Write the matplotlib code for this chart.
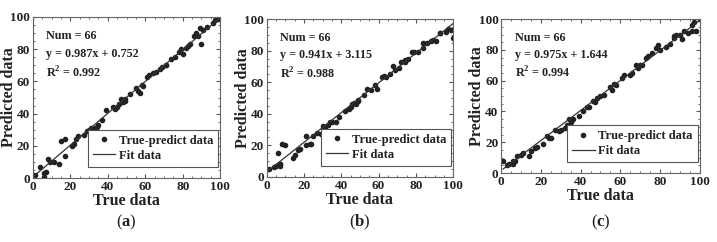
import numpy as np
import matplotlib.pyplot as plt
from matplotlib.ticker import AutoMinorLocator

# --- dados ---
xa = [1, 4, 6, 6, 7, 8, 9, 11, 14, 15, 17, 17, 21, 22, 23, 24, 29, 30, 31, 33, 34, 35,
      37, 39, 43, 44, 45, 47, 48, 49, 49, 55, 56, 57, 58, 59, 61, 62, 64, 68, 69, 71,
      71, 74, 76, 78, 79, 80, 83, 84, 86, 87, 88, 89, 90, 91, 93, 96, 97, 99, 100,
      46, 66, 52, 27, 82]
ya = [2, 7, 3, 1, 4, 12, 10, 10, 9, 23, 14, 24, 20, 21, 24, 26, 29, 30, 31, 31, 32, 33,
      36, 42, 44, 43, 44, 49, 47, 48, 49, 56, 54, 53, 58, 57, 63, 64, 65, 68, 69, 70,
      70, 74, 75, 78, 80, 77, 82, 83, 88, 90, 88, 93, 83, 92, 94, 96, 98, 99, 99,
      46, 66, 52, 27, 81]

xb = [1, 4, 5, 7, 6, 7, 7, 8, 10, 14, 15, 17, 18, 21, 21, 23, 24, 25, 29, 30, 31, 33,
      34, 35, 37, 39, 44, 45, 46, 47, 49, 49, 54, 56, 58, 59, 62, 63, 66, 68, 69, 71,
      72, 74, 74, 76, 78, 79, 81, 84, 84, 86, 88, 91, 93, 93, 96, 97, 99, 100,
      42, 52, 64, 89, 27, 48]
yb = [5, 6, 7, 7, 15, 8, 8, 21, 20, 12, 14, 17, 18, 26, 20, 21, 21, 26, 27, 32, 31, 33,
      35, 35, 35, 38, 43, 44, 46, 47, 48, 49, 56, 55, 58, 56, 63, 64, 65, 70, 68, 69,
      73, 73, 74, 75, 79, 79, 79, 82, 85, 85, 86, 86, 91, 91, 92, 94, 93, 88,
      42, 52, 63, 87, 28, 46]

xc = [1, 3, 4, 6, 6, 7, 8, 10, 11, 14, 15, 17, 18, 21, 23, 24, 25, 29, 30, 32, 33, 34,
      35, 36, 39, 43, 44, 46, 47, 48, 55, 56, 57, 58, 61, 62, 65, 68, 69, 70, 71, 73,
      74, 76, 78, 79, 80, 83, 85, 87, 87, 88, 90, 91, 92, 96, 96, 97, 98, 100,
      50, 52, 41, 27, 66, 94]
yc = [8, 5, 6, 8, 6, 8, 11, 12, 13, 11, 14, 16, 17, 19, 24, 23, 23, 27, 28, 29, 31, 35,
      33, 35, 37, 43, 43, 47, 46, 49, 56, 54, 58, 57, 62, 64, 64, 70, 68, 70, 70, 75,
      76, 78, 81, 83, 80, 82, 84, 88, 89, 90, 90, 87, 92, 92, 96, 98, 92, 100,
      50, 51, 40, 28, 65, 91]

paineis = [
    (xa, ya, 0.987, 0.752, 0.992, 'a'),
    (xb, yb, 0.941, 3.115, 0.988, 'b'),
    (xc, yc, 0.975, 1.644, 0.994, 'c'),
]
posicoes = [
    [0.046, 0.264, 0.261, 0.666],
    [0.372, 0.269, 0.260, 0.652],
    [0.699, 0.285, 0.277, 0.636],
]

cor_texto = '#222222'
plt.rcParams['font.family'] = ['Liberation Serif', 'DejaVu Serif']
plt.rcParams['font.weight'] = 'bold'
plt.rcParams['mathtext.fontset'] = 'custom'
plt.rcParams['mathtext.bf'] = 'Liberation Serif:bold'
plt.rcParams['mathtext.rm'] = 'Liberation Serif'

fig = plt.figure(figsize=(7.17, 2.42), dpi=100)

for (x, y, m, b, r2, letra), pos in zip(paineis, posicoes):
    ax = fig.add_axes(pos)
    ax.plot(x, y, 'o', color='#222222', markersize=3.0, label='True-predict data')
    xl = np.array([min(x), max(x)])
    ax.plot(xl, m * xl + b, '-', color='#333333', linewidth=0.9, label='Fit data')
    ax.set_xlim(0, 100)
    ax.set_ylim(0, 100)
    ax.set_xticks([0, 20, 40, 60, 80, 100])
    ax.set_yticks([0, 20, 40, 60, 80, 100])
    ax.xaxis.set_minor_locator(AutoMinorLocator(4))
    ax.yaxis.set_minor_locator(AutoMinorLocator(4))
    ax.tick_params(which='both', direction='in', top=True, right=True,
                   labelsize=9.5, colors='#555555', labelcolor=cor_texto, pad=2)
    ax.tick_params(which='major', length=3)
    ax.tick_params(which='minor', length=1.5)
    for s in ax.spines.values():
        s.set_color('#666666')
        s.set_linewidth(0.8)
    ax.set_xlabel('True data', fontsize=11.5, fontweight='bold', color=cor_texto, labelpad=0)
    ax.set_ylabel('Predicted data', fontsize=11.5, fontweight='bold', color=cor_texto)
    # borda direita do rótulo y a ~16 px à esquerda do eixo
    ax.yaxis.set_label_coords(-16 / (pos[2] * 717), 0.5)

    ax.text(7, 88, 'Num = 66', fontsize=8.7, fontweight='bold', color=cor_texto, va='center')
    ax.text(7, 77, f'y = {m:.3f}x + {b:.3f}', fontsize=8.7, fontweight='bold',
            color=cor_texto, va='center')
    ax.text(7, 65, r'R$^{\mathbf{2}}$ = ' + f'{r2:.3f}', fontsize=8.7, fontweight='bold',
            color=cor_texto, va='center')

    leg = ax.legend(loc='lower right', bbox_to_anchor=(0.99, 0.07), fontsize=9,
                    frameon=True, fancybox=False, framealpha=1,
                    edgecolor='#555555', borderpad=0.4, handlelength=1.8,
                    handletextpad=0.3, labelspacing=0.25, borderaxespad=0)
    leg.get_frame().set_linewidth(0.8)
    for t in leg.get_texts():
        t.set_color(cor_texto)

    cx = pos[0] + pos[2] / 2
    fig.text(cx, 1 - 222 / 242, r'($\mathbf{' + letra + '}$)', ha='center', va='center',
             fontsize=12, color=cor_texto, fontweight='normal')

fig.savefig('out.png', dpi=100)
